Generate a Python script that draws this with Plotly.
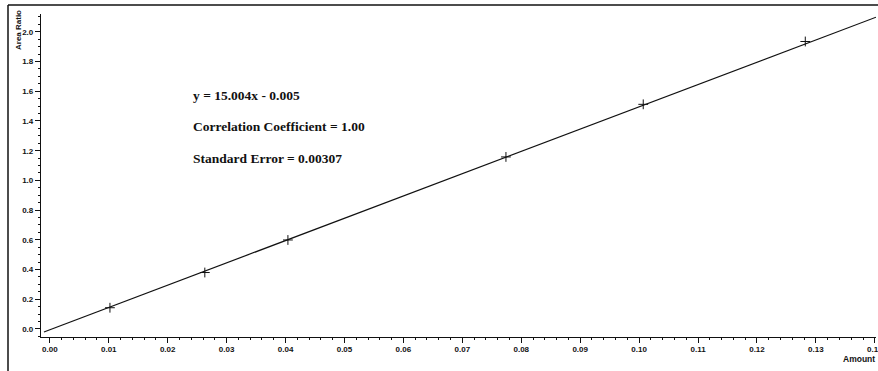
import plotly.graph_objects as go

# Data
amount = [0.0102, 0.0263, 0.0404, 0.0774, 0.1007, 0.1282]
area_ratio = [0.143, 0.380, 0.599, 1.158, 1.512, 1.935]
slope = 15.004
intercept = -0.005
x_ticks = [0.00, 0.01, 0.02, 0.03, 0.04, 0.05, 0.06, 0.07, 0.08, 0.09, 0.10, 0.11, 0.12, 0.13, 0.14]
x_tick_labels = ["0.00", "0.01", "0.02", "0.03", "0.04", "0.05", "0.06", "0.07", "0.08", "0.09", "0.10", "0.11", "0.12", "0.13", "0.14"]
y_ticks = [0.0, 0.2, 0.4, 0.6, 0.8, 1.0, 1.2, 1.4, 1.6, 1.8, 2.0]
y_tick_labels = ["0.0", "0.2", "0.4", "0.6", "0.8", "1.0", "1.2", "1.4", "1.6", "1.8", "2.0"]
info_lines = ["y = 15.004x - 0.005", "Correlation Coefficient = 1.00", "Standard Error = 0.00307"]

x_range = [-0.0015, 0.1402]
y_range = [-0.054, 2.12]

W, H = 878, 371
ml, mr, mt, mb = 41, 2, 14, 34
pw, ph = W - ml - mr, H - mt - mb

def px_to_paper_x(px):
    return (px - ml) / pw

def px_to_paper_y(py):
    return (H - mb - py) / ph

fit_x = [x_range[0] + 0.0005, x_range[1]]
fit_y = [slope * v + intercept for v in fit_x]

fig = go.Figure()
fig.add_trace(go.Scatter(x=fit_x, y=fit_y, mode="lines",
                         line=dict(color="#111111", width=1.2),
                         hoverinfo="skip", showlegend=False, cliponaxis=False))
fig.add_trace(go.Scatter(x=amount, y=area_ratio, mode="markers",
                         marker=dict(symbol="cross-thin", size=7,
                                     line=dict(color="#111111", width=1)),
                         showlegend=False))

tick_font = dict(family="Liberation Sans, Arial, sans-serif", size=8, color="#111111", weight="bold")

fig.update_xaxes(range=x_range, tickvals=x_ticks, ticktext=x_tick_labels,
                 showgrid=False, zeroline=False, showline=True,
                 linecolor="#111111", linewidth=1.2,
                 ticks="outside", ticklen=5, tickwidth=1, tickcolor="#111111",
                 tickfont=tick_font, ticklabeloverflow="allow", ticklabelstandoff=-1,
                 minor=dict(dtick=0.002, tick0=0, ticks="outside", ticklen=2,
                            tickwidth=1, tickcolor="#111111", showgrid=False))
fig.update_yaxes(range=y_range, tickvals=y_ticks, ticktext=y_tick_labels,
                 showgrid=False, zeroline=False, showline=True,
                 linecolor="#111111", linewidth=1.2,
                 ticks="outside", ticklen=5, tickwidth=1, tickcolor="#111111",
                 tickfont=tick_font,
                 minor=dict(dtick=0.05, tick0=0, ticks="outside", ticklen=2,
                            tickwidth=1, tickcolor="#111111", showgrid=False))

annotations = []
for i, txt in enumerate(info_lines):
    annotations.append(dict(text="<b>" + txt + "</b>", xref="paper", yref="paper",
                            x=px_to_paper_x(191), y=px_to_paper_y(95 + 31.5 * i),
                            xanchor="left", yanchor="middle", showarrow=False,
                            font=dict(family="Liberation Serif, Times New Roman, serif",
                                      size=13.5, color="#111111")))
annotations.append(dict(text="<b>Area Ratio</b>", xref="paper", yref="paper",
                        x=px_to_paper_x(18), y=px_to_paper_y(30), textangle=-90,
                        xanchor="center", yanchor="middle", showarrow=False,
                        font=dict(family="Liberation Sans, Arial, sans-serif", size=8, color="#111111")))
annotations.append(dict(text="<b>Amount</b>", xref="paper", yref="paper",
                        x=px_to_paper_x(877), y=px_to_paper_y(359),
                        xanchor="right", yanchor="middle", showarrow=False,
                        font=dict(family="Liberation Sans, Arial, sans-serif", size=8.5, color="#111111")))

shapes = [
    dict(type="line", xref="paper", yref="paper",
         x0=px_to_paper_x(8), x1=px_to_paper_x(8),
         y0=px_to_paper_y(5), y1=px_to_paper_y(372),
         line=dict(color="#111111", width=1.5)),
    dict(type="line", xref="paper", yref="paper",
         x0=px_to_paper_x(8), x1=px_to_paper_x(879),
         y0=px_to_paper_y(5), y1=px_to_paper_y(5),
         line=dict(color="#111111", width=1.5)),
]

fig.update_layout(width=W, height=H,
                  margin=dict(l=ml, r=mr, t=mt, b=mb, autoexpand=False),
                  paper_bgcolor="white", plot_bgcolor="white",
                  annotations=annotations, shapes=shapes, showlegend=False)

fig.write_html("out.html", config={"displayModeBar": False},
               post_script="document.body.style.margin='0';document.body.style.overflow='hidden';")
